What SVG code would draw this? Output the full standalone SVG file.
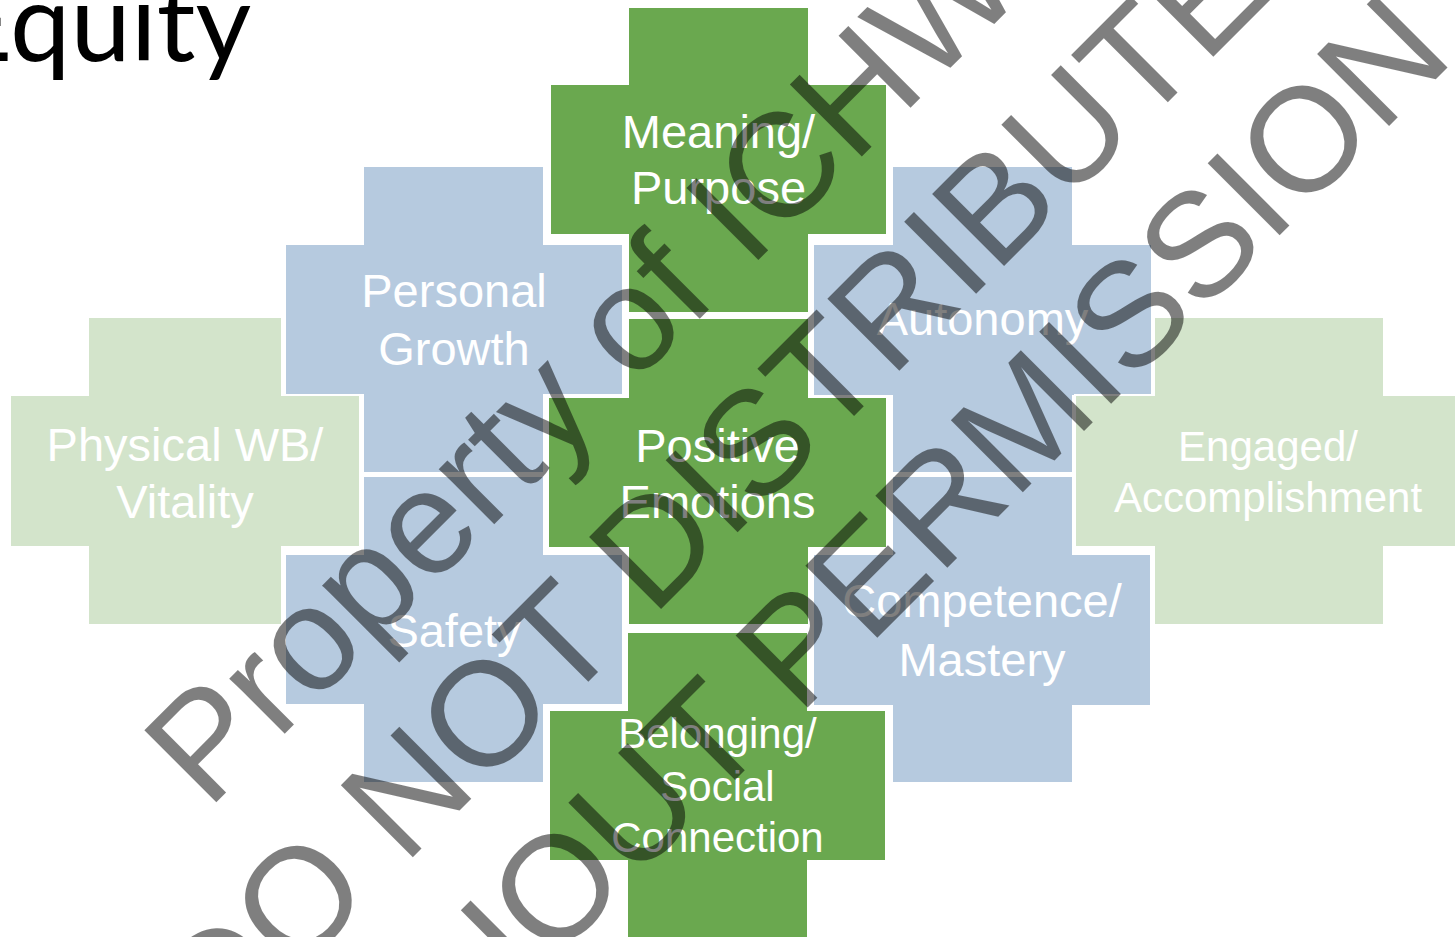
<svg xmlns="http://www.w3.org/2000/svg" width="1455" height="937" viewBox="0 0 1455 937">
<style>
.dg{fill:#6AA84F}
.bl{fill:#B6CADF}
.lg{fill:#D3E4CB}
.sh{stroke:#fff;stroke-width:2}
.lb{font-family:"Liberation Sans",Arial,sans-serif;font-size:47px;fill:#fff;text-anchor:middle}
.sm{font-size:42px}
.wm{font-family:"Liberation Sans",Arial,sans-serif;font-size:148px;fill:#000;fill-opacity:.5}
.title{font-family:Lato,"Open Sans",sans-serif;font-size:108px;fill:#000}
</style>
<rect width="1455" height="937" fill="#fff"/>
<g id="title"><text class="title" x="-50" y="61">Equity</text></g>
<g id="connectors"></g>
<g id="node-meaning">
<path class="dg sh" d="M628,7 H809 V84 H887 V235 H809 V313 H628 V235 H550 V84 H628 Z"/>
<text class="lb" x="718.5" y="148">Meaning/</text>
<text class="lb" x="718.5" y="204">Purpose</text>
</g>
<g id="node-personal-growth">
<path class="bl sh" d="M363,166 H544 V244 H623 V395 H544 V473 H363 V395 H285 V244 H363 Z"/>
<text class="lb" x="454" y="307">Personal</text>
<text class="lb" x="454" y="365">Growth</text>
</g>
<g id="node-autonomy">
<path class="bl sh" d="M892,166 H1073 V244 H1152 V396 H1073 V473 H892 V396 H813 V244 H892 Z"/>
<text class="lb" x="982.5" y="335">Autonomy</text>
</g>
<g id="node-physical">
<path class="lg sh" d="M88,317 H282 V395 H360 V547 H282 V625 H88 V547 H10 V395 H88 Z"/>
<text class="lb" x="185" y="461">Physical WB/</text>
<text class="lb" x="185" y="518">Vitality</text>
</g>
<g id="node-positive">
<path class="dg sh" d="M628,318 H809 V397 H887 V548 H809 V625 H628 V548 H548 V397 H628 Z"/>
<text class="lb" x="717.5" y="462">Positive</text>
<text class="lb" x="717.5" y="518">Emotions</text>
</g>
<g id="node-engaged">
<path class="lg sh" d="M1154,317 H1384 V395 H1462 V547 H1384 V625 H1154 V547 H1075 V395 H1154 Z"/>
<text class="lb sm" x="1268" y="461">Engaged/</text>
<text class="lb sm" x="1268" y="512">Accomplishment</text>
</g>
<g id="node-safety">
<path class="bl sh" d="M363,476 H544 V554 H623 V705 H544 V783 H363 V705 H285 V554 H363 Z"/>
<text class="lb" x="454" y="647">Safety</text>
</g>
<g id="node-competence">
<path class="bl sh" d="M892,476 H1073 V554 H1151 V706 H1073 V783 H892 V706 H813 V554 H892 Z"/>
<text class="lb" x="982" y="617">Competence/</text>
<text class="lb" x="982" y="676">Mastery</text>
</g>
<g id="node-belonging">
<path class="dg sh" d="M627,632 H808 V710 H886 V861 H808 V940 H627 V861 H549 V710 H627 Z"/>
<text class="lb sm" x="717.5" y="748">Belonging/</text>
<text class="lb sm" x="717.5" y="801">Social</text>
<text class="lb sm" x="717.5" y="852">Connection</text>
</g>
<g id="watermark">
<text class="wm" transform="translate(207.7 810.7) rotate(-45)">Property of ICHW</text>
<text class="wm" transform="translate(218.3 1051.7) rotate(-45)">DO NOT DISTRIBUTE</text>
<text class="wm" transform="translate(283.6 1231.4) rotate(-45)">WITHOUT PERMISSION</text>
</g>
</svg>
